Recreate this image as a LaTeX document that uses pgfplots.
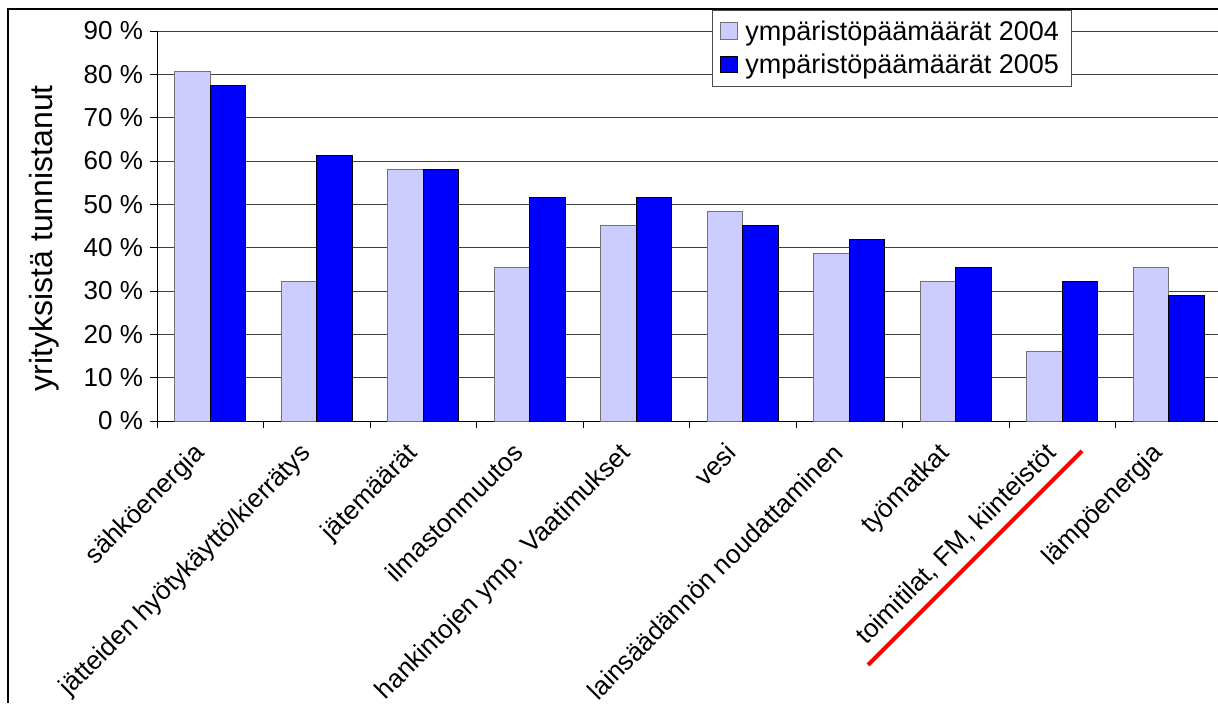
\documentclass[border=0pt]{standalone}
\usepackage{pgfplots}
\pgfplotsset{compat=1.18}
\usepackage{fontspec}
\setmainfont{Liberation Sans}
\definecolor{lav}{RGB}{204,204,255}
\definecolor{bblue}{RGB}{0,0,255}
\begin{document}
\begin{tikzpicture}
\begin{axis}[
  at={(78.5pt,141pt)}, anchor=south west,
  scale only axis, width=532.5pt, height=195pt,
  xmin=-0.5, xmax=9.5, ymin=0, ymax=90,
  axis x line*=bottom, axis y line*=left,
  axis line style={-, black, line width=0.5pt},
  ybar=0pt, bar width=0.333,
  ytick={0,10,20,30,40,50,60,70,80,90},
  yticklabels={0 \%,10 \%,20 \%,30 \%,40 \%,50 \%,60 \%,70 \%,80 \%,90 \%},
  xtick={-0.5,0.5,1.5,2.5,3.5,4.5,5.5,6.5,7.5,8.5,9.5},
  x tick label as interval,
  xticklabels={sähköenergia,jätteiden hyötykäyttö/kierrätys,jätemäärät,ilmastonmuutos,hankintojen ymp. Vaatimukset,vesi,lainsäädännön noudattaminen,työmatkat,{toimitilat, FM, kiinteistöt},lämpöenergia},
  tick align=outside, major tick length=3.5pt,
  tick style={black, line width=0.5pt},
  ymajorgrids, grid style={black!75, line width=0.5pt},
  y tick label style={font=\fontsize{13}{15}\selectfont},
  x tick label style={font=\fontsize{13}{15}\selectfont, xshift=-9pt, yshift=-5pt, rotate=45, anchor=north east, inner sep=1pt},
  ylabel={yrityksistä tunnistanut},
  ylabel style={font=\fontsize{16}{19}\selectfont, at={(axis description cs:-0.1061,0.469)}, anchor=center},
  legend style={at={(axis description cs:0.521,1.054)}, anchor=north west, draw=black!70, line width=0.5pt,
    font=\fontsize{13.5}{16}\selectfont, row sep=1.5pt, inner xsep=4pt, inner ysep=3pt},
  legend cell align=left,
]
\addplot[fill=lav, draw=black!55, line width=0.5pt,
  legend image code/.code={\draw[fill=lav, draw=black!55, line width=0.5pt] (0pt,-3.8pt) rectangle (8.3pt,4.5pt); \path (10pt,0pt);}]
  coordinates {(0,80.6) (1,32.3) (2,58.1) (3,35.5) (4,45.2) (5,48.4) (6,38.7) (7,32.3) (8,16.1) (9,35.5)};
\addplot[fill=bblue, draw=black, line width=0.5pt,
  legend image code/.code={\draw[fill=bblue, draw=black, line width=0.5pt] (0pt,-3.8pt) rectangle (8.3pt,4.5pt); \path (10pt,0pt);}]
  coordinates {(0,77.4) (1,61.3) (2,58.1) (3,51.6) (4,51.6) (5,45.2) (6,41.9) (7,35.5) (8,32.3) (9,29.0)};
\legend{ympäristöpäämäärät 2004, ympäristöpäämäärät 2005}
\end{axis}
\draw[line width=0.7pt, black] (4pt,0pt) -- (4pt,347pt) -- (609pt,347pt);
\draw[red, line width=2pt] (434pt,19pt) -- (541pt,126pt);
\pgfresetboundingbox
\path[use as bounding box] (0pt,0pt) rectangle (609pt,351.5pt);
\end{tikzpicture}
\end{document}
